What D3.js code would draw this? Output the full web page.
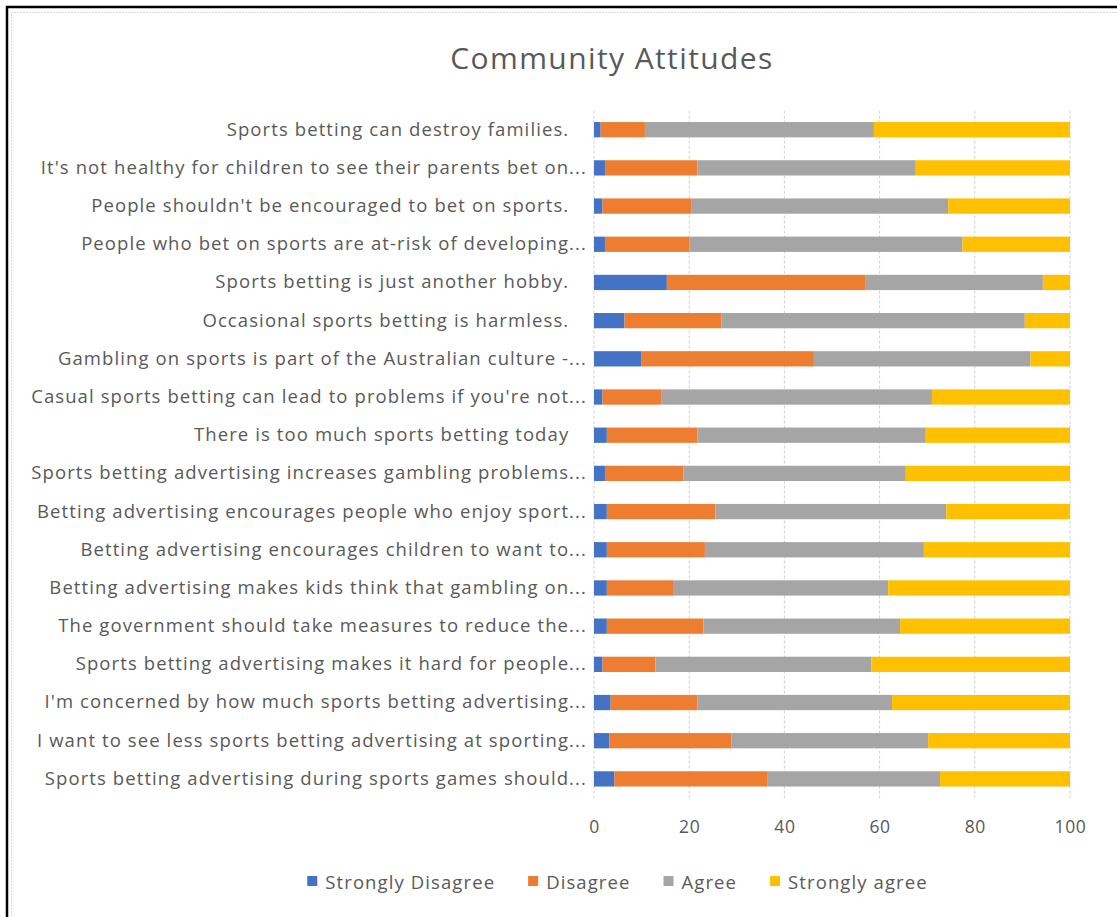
<!DOCTYPE html>
<html>
<head>
<meta charset="utf-8">
<script src="https://cdn.jsdelivr.net/npm/d3@7"></script>
<style>
  html, body { margin: 0; padding: 0; background: #fff; }
  svg text { font-family: "Open Sans", Lato, sans-serif; fill: #595959; }
</style>
</head>
<body>
<svg id="chart" width="1117" height="917"></svg>
<script>
// Survey statements, top to bottom
const categories = [
  "Sports betting can destroy families.   ",
  "It's not healthy for children to see their parents bet on...",
  "People shouldn't be encouraged to bet on sports.   ",
  "People who bet on sports are at-risk of developing...",
  "Sports betting is just another hobby.   ",
  "Occasional sports betting is harmless.   ",
  "Gambling on sports is part of the Australian culture -...",
  "Casual sports betting can lead to problems if you're not...",
  "There is too much sports betting today   ",
  "Sports betting advertising increases gambling problems...",
  "Betting advertising encourages people who enjoy sport...",
  "Betting advertising encourages children to want to...",
  "Betting advertising makes kids think that gambling on...",
  "The government should take measures to reduce the...",
  "Sports betting advertising makes it hard for people...",
  "I'm concerned by how much sports betting advertising...",
  "I want to see less sports betting advertising at sporting...",
  "Sports betting advertising during sports games should..."
];

// Response shares (%) per statement
const stronglyDisagree = [1.4, 2.3, 1.8, 2.3, 15.3, 6.4, 9.9, 1.8, 2.7, 2.3, 2.7, 2.7, 2.7, 2.7, 1.8, 3.5, 3.2, 4.3];
const disagree         = [9.3, 19.4, 18.6, 17.7, 41.8, 20.4, 36.3, 12.3, 19.0, 16.5, 22.8, 20.6, 13.9, 20.3, 11.1, 18.2, 25.7, 32.2];
const agree            = [48.1, 45.9, 54.0, 57.4, 37.2, 63.7, 45.5, 56.9, 48.0, 46.7, 48.5, 46.0, 45.2, 41.3, 45.4, 40.9, 41.3, 36.2];
const stronglyAgree    = [41.2, 32.4, 25.6, 22.6, 5.7, 9.5, 8.3, 29.0, 30.3, 34.5, 26.0, 30.7, 38.2, 35.7, 41.7, 37.4, 29.8, 27.3];

const seriesNames = ["Strongly Disagree", "Disagree", "Agree", "Strongly agree"];
const seriesColors = ["#4472C4", "#ED7D31", "#A5A5A5", "#FFC000"];
const xTicks = [0, 20, 40, 60, 80, 100];

const seriesValues = [stronglyDisagree, disagree, agree, stronglyAgree];
const rows = categories.map((c, i) => {
  const r = { category: c };
  seriesNames.forEach((s, k) => r[s] = seriesValues[k][i]);
  return r;
});

const svg = d3.select("#chart");
const labelFont = { size: "18.5px", spacing: "1.1px" };

// frame
svg.append("path")
  .attr("d", "M7,1000 L7,7 L1200,7")
  .attr("fill", "none").attr("stroke", "#000").attr("stroke-width", 2.5);
svg.append("path")
  .attr("d", "M11.5,1000 L11.5,12.5 L1200,12.5")
  .attr("fill", "none").attr("stroke", "#D9D9D9").attr("stroke-width", 1)
  .attr("stroke-dasharray", "2,1");

const plot = { left: 594, right: 1070, top: 110.6, bottom: 798 };

const x = d3.scaleLinear().domain([0, 100]).range([plot.left, plot.right]);
const y = d3.scaleBand().domain(categories).range([plot.top, plot.bottom])
  .paddingInner(0.6).paddingOuter(0.3);

// title
svg.append("text")
  .attr("x", 612).attr("y", 57)
  .attr("text-anchor", "middle").attr("dominant-baseline", "central")
  .style("font-size", "30px")
  .style("letter-spacing", "1.4px")
  .text("Community Attitudes");

// vertical gridlines
svg.append("g")
  .selectAll("line").data(xTicks).join("line")
  .attr("x1", d => x(d)).attr("x2", d => x(d))
  .attr("y1", plot.top).attr("y2", plot.bottom)
  .attr("stroke", "#D0D0D0").attr("stroke-width", 1)
  .attr("stroke-dasharray", "3,2");

// stacked bars
const stack = d3.stack().keys(seriesNames)(rows);
svg.append("g")
  .selectAll("g").data(stack).join("g")
  .attr("fill", (d, i) => seriesColors[i])
  .selectAll("rect").data(d => d).join("rect")
  .attr("x", d => x(d[0]))
  .attr("width", d => x(d[1]) - x(d[0]))
  .attr("y", d => y(d.data.category))
  .attr("height", y.bandwidth());

// category axis labels
const yAxis = d3.axisLeft(y).tickSize(0).tickPadding(7);
const gy = svg.append("g").attr("transform", `translate(${plot.left},0)`).call(yAxis);
gy.select(".domain").remove();
gy.selectAll("text")
  .style("font-size", labelFont.size)
  .style("letter-spacing", labelFont.spacing)
  .style("white-space", "pre")
  .attr("fill", null);

// value axis labels
const xAxis = d3.axisBottom(x).tickValues(xTicks).tickSize(0).tickPadding(0);
const gx = svg.append("g").attr("transform", `translate(0,${plot.bottom})`).call(xAxis);
gx.select(".domain").remove();
gx.selectAll("text")
  .attr("y", 28).attr("dy", null)
  .attr("dominant-baseline", "central")
  .style("font-size", "17.5px")
  .style("letter-spacing", "0.6px")
  .attr("fill", null);

// legend
const legend = svg.append("g");
const items = legend.selectAll("g").data(seriesNames).join("g");
items.append("rect").attr("width", 10).attr("height", 10).attr("y", -5)
  .attr("fill", (d, i) => seriesColors[i]);
items.append("text").attr("x", 18).attr("dominant-baseline", "central")
  .style("font-size", labelFont.size)
  .style("letter-spacing", labelFont.spacing)
  .text(d => d);
let cx = 0;
items.each(function () {
  const w = this.getBBox().width;
  d3.select(this).attr("transform", `translate(${cx},0)`);
  cx += w + 33;
});
const totalW = cx - 33;
legend.attr("transform", `translate(${617.5 - totalW / 2},881)`);
</script>
</body>
</html>
